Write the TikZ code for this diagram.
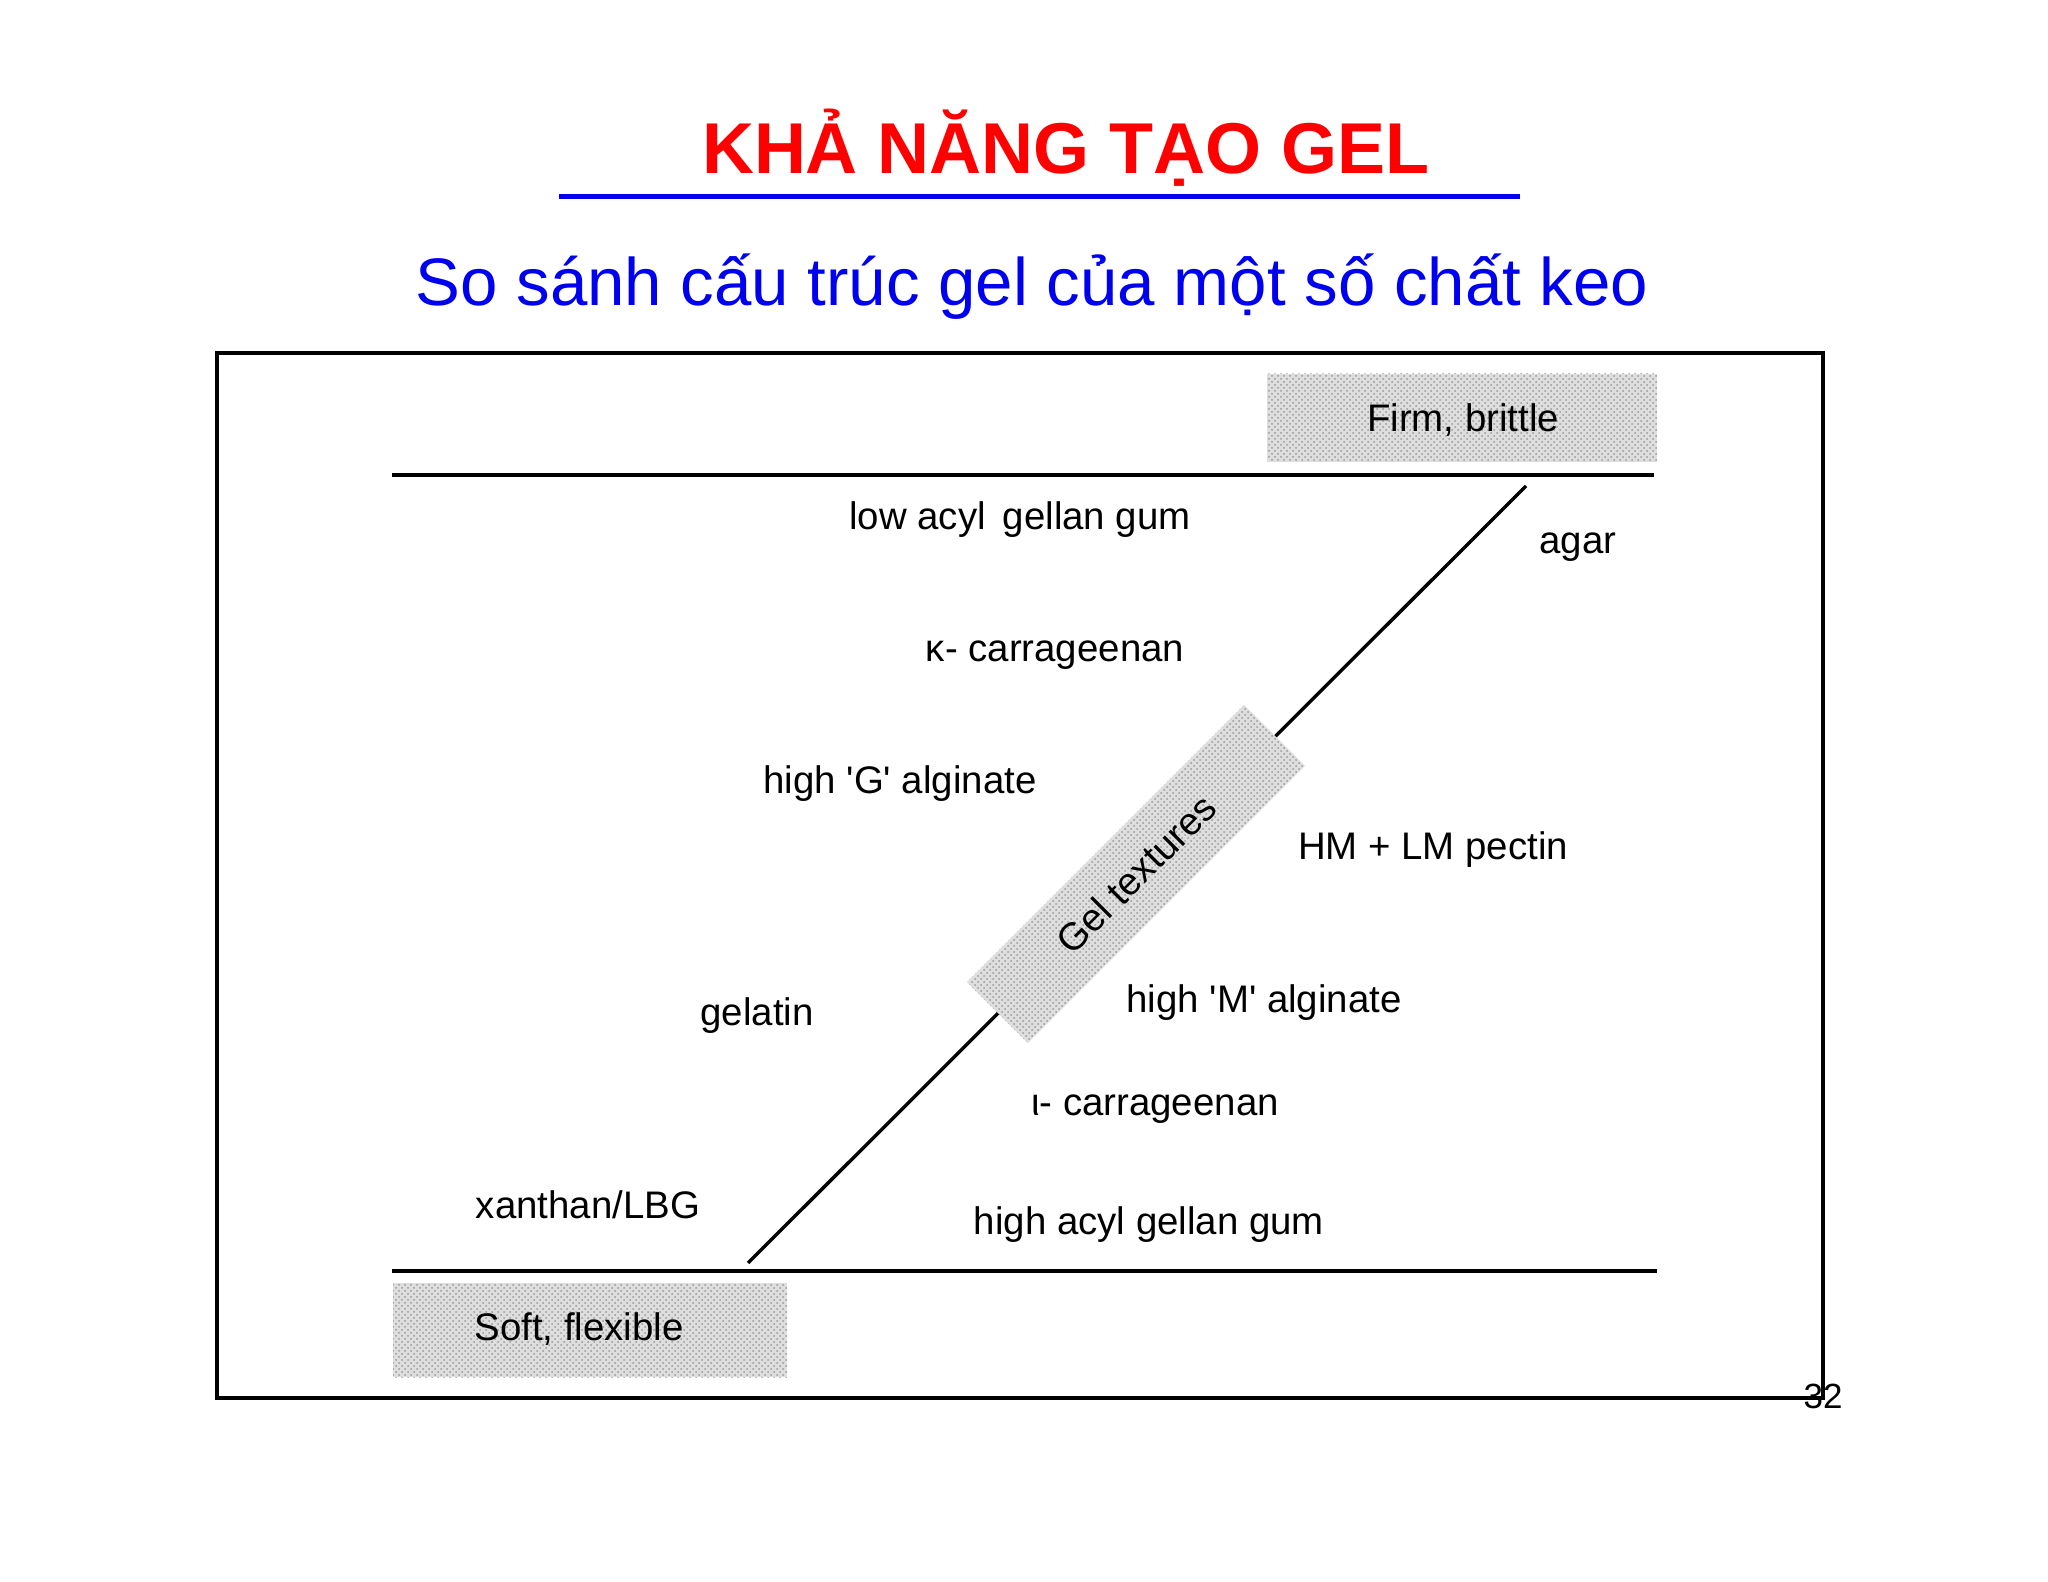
\documentclass[tikz,border=0pt]{standalone}
\usepackage{fontspec}
\setmainfont{Liberation Sans}
\usetikzlibrary{patterns}
\definecolor{titlered}{RGB}{255,0,0}
\definecolor{titleblue}{RGB}{0,0,240}
\tikzset{halftone/.style={fill=gray!26,
			postaction={pattern=crosshatch dots, pattern color=gray!80}},
		lbl/.style={anchor=base, inner sep=0pt, font=\fontsize{19.2}{22}\selectfont}}

\begin{document}
\begin{tikzpicture}[x=0.5pt,y=-0.5pt]
		\useasboundingbox (0,0) rectangle (2048,1582);
		
		% heading
		\node[anchor=base, inner sep=0pt, text=titlered, font=\fontsize{36}{40}\selectfont\bfseries] (title) at (1066,174) {KHẢ NĂNG TẠO GEL};
		\draw[titleblue, line width=2.5pt] (559,197) -- (1520,197);
		\node[anchor=base, inner sep=0pt, text=titleblue, font=\fontsize{33.6}{38}\selectfont] (subtitle) at (1032,306) {So sánh cấu trúc gel của một số chất keo};
		
		% frame
		\draw[line width=2pt] (217,353) rectangle (1823,1398);
		
		% scale ends
		\fill[halftone] (1267,374) rectangle (1657,462);
		\fill[halftone] (393,1283) rectangle (787,1377);
		\node[lbl] (firm) at (1463,432) {Firm, brittle};
		\node[lbl] (soft) at (579,1340) {Soft, flexible};
		\draw[line width=1.9pt] (392,475) -- (1654,475);
		\draw[line width=1.9pt] (392,1271) -- (1657,1271);
		
		% diagonal
		\coordinate (hi) at (1526,486);
		\coordinate (lo) at (748,1263);
		\draw[line width=1.7pt] (lo) -- (hi);
		\node[halftone, rotate=45, minimum width=196pt, minimum height=43pt, inner sep=0pt, font=\fontsize{19.2}{22}\selectfont] (band) at (1136,874) {Gel textures};
		
		% gels
		\node[lbl] (lowacyl) at (1020,530) {low acyl\, gellan gum};
		\node[lbl] (agar) at (1578,553) {agar};
		\node[lbl] (kappa) at (1055,661) {κ- carrageenan};
		\node[lbl] (highG) at (900,793) {high \textquotesingle G\textquotesingle\ alginate};
		\node[lbl] (pectin) at (1433,859) {HM + LM pectin};
		\node[lbl] (highM) at (1264,1012) {high \textquotesingle M\textquotesingle\ alginate};
		\node[lbl] (gelatin) at (757,1025) {gelatin};
		\node[lbl] (iota) at (1155,1115) {ι- carrageenan};
		\node[lbl] (xanthan) at (588,1218) {xanthan/LBG};
		\node[lbl] (highacyl) at (1149,1234) {high acyl gellan gum};
		
		\node[anchor=base, inner sep=0pt, font=\fontsize{17.5}{20}\selectfont] (page) at (1823,1408) {32};
\end{tikzpicture}
\end{document}
